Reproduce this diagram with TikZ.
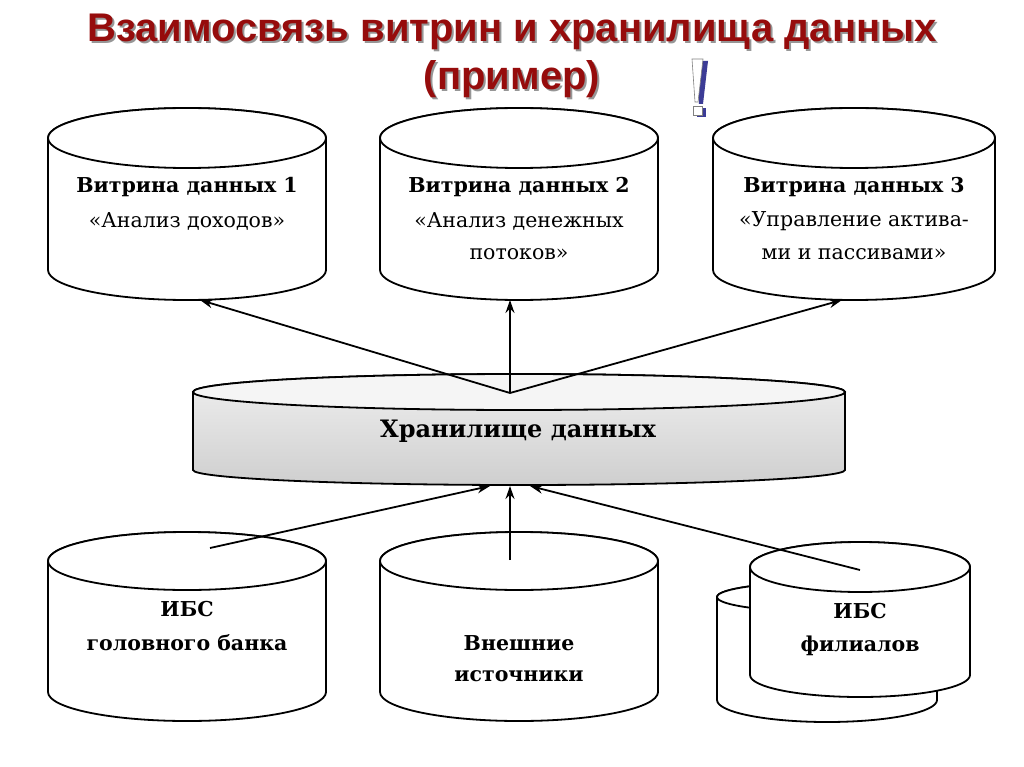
\documentclass[tikz,border=0pt]{standalone}
\usepackage{fontspec}
\setmainfont{DejaVu Serif}
\newfontfamily\titlefont{Liberation Sans}
\usetikzlibrary{arrows.meta}
\definecolor{titlered}{RGB}{150,12,12}
\definecolor{shadowgray}{RGB}{150,150,150}
\definecolor{bangblue}{RGB}{60,60,150}
\newcommand{\mycyl}[8]{% #1 body opts, #2 top opts, #3 cx, #4 ty, #5 by, #6 rx, #7 ryt, #8 ryb
  \path[cylline,#1] (#3-#6,#4) -- (#3-#6,#5) arc[start angle=180,end angle=0,x radius=#6,y radius=#8] -- (#3+#6,#4) arc[start angle=0,end angle=-180,x radius=#6,y radius=#7] -- cycle;
  \path[cylline,#2] (#3,#4) ellipse[x radius=#6,y radius=#7];
}
\tikzset{
  cylline/.style={draw=black,line width=1.8pt,fill=white},
  lblb/.style={font=\fontsize{20.5}{24}\selectfont\bfseries,inner sep=0pt},
  lblr/.style={font=\fontsize{20.5}{24}\selectfont,inner sep=0pt},
  arr/.style={line width=1.8pt,-{Stealth[length=13pt,width=9pt]}},
  ttl/.style={font=\titlefont\fontsize{40}{44}\selectfont\bfseries,inner sep=0pt}
}
\begin{document}
\begin{tikzpicture}[x=1pt,y=-1pt]
\useasboundingbox (0,0) rectangle (1024,767);
\fill[white] (0,0) rectangle (1024,767);
% title
\node[ttl,text=shadowgray] at (514,34) {Взаимосвязь витрин и хранилища данных};
\node[ttl,text=titlered] (title1) at (512,32) {Взаимосвязь витрин и хранилища данных};
\node[ttl,text=shadowgray] at (514,81) {(пример)};
\node[ttl,text=titlered] (title2) at (512,79) {(пример)};
% exclamation mark
\fill[bangblue] (696,61) -- (708,61) -- (703,104) -- (699,104) -- cycle;
\fill[bangblue] (697,108) rectangle (706,117);
\filldraw[fill=white,draw=gray,line width=0.6pt] (692,59) -- (703,59) -- (698,102) -- (695,102) -- cycle;
\filldraw[fill=white,draw=gray,line width=0.6pt] (693,106) rectangle (702,115);
% top cylinders
\mycyl{}{}{187}{138}{270}{139}{30}{30}
\mycyl{}{}{519}{138}{270}{139}{30}{30}
\mycyl{}{}{854}{138}{270}{141}{30}{30}
\node[lblb] (m1a) at (187,187) {Витрина данных 1};
\node[lblr] (m1b) at (187,221) {«Анализ доходов»};
\node[lblb] (m2a) at (519,187) {Витрина данных 2};
\node[lblr] (m2b) at (519,221) {«Анализ денежных};
\node[lblr] (m2c) at (519,254) {потоков»};
\node[lblb] (m3a) at (854,187) {Витрина данных 3};
\node[lblr] (m3b) at (854,221) {«Управление актива-};
\node[lblr] (m3c) at (854,254) {ми и пассивами»};
% storage
\mycyl{top color=gray!12,bottom color=gray!38,middle color=gray!25}{fill=gray!8}{519}{392}{470}{326}{18}{15}
\node[font=\fontsize{24}{28}\selectfont\bfseries,inner sep=0pt] (store) at (518,431) {Хранилище данных};
% bottom cylinders
\mycyl{}{}{187}{561}{692}{139}{29}{29}
\mycyl{}{}{519}{561}{692}{139}{29}{29}
\mycyl{}{}{827}{597}{700}{110}{15}{22}
\mycyl{}{}{860}{567}{675}{110}{25}{22}
\node[lblb] (s1a) at (187,609) {ИБС};
\node[lblb] (s1b) at (187,643) {головного банка};
\node[lblb] (s2a) at (519,643) {Внешние};
\node[lblb] (s2b) at (519,676) {источники};
\node[lblb] (s3a) at (860,611) {ИБС};
\node[lblb] (s3b) at (860,646) {филиалов};
% connector coordinates
\coordinate (hub) at (510,393);
\coordinate (t1) at (200,300);
\coordinate (t2) at (510,300);
\coordinate (t3) at (842,300);
\coordinate (b1) at (210,548);
\coordinate (b2) at (510,560);
\coordinate (b3) at (860,570);
\coordinate (h1) at (490,486);
\coordinate (h2) at (510,486);
\coordinate (h3) at (530,486);
\draw[arr] (hub) -- (t1);
\draw[arr] (hub) -- (t2);
\draw[arr] (hub) -- (t3);
\draw[arr] (b1) -- (h1);
\draw[arr] (b2) -- (h2);
\draw[arr] (b3) -- (h3);
\end{tikzpicture}
\end{document}
